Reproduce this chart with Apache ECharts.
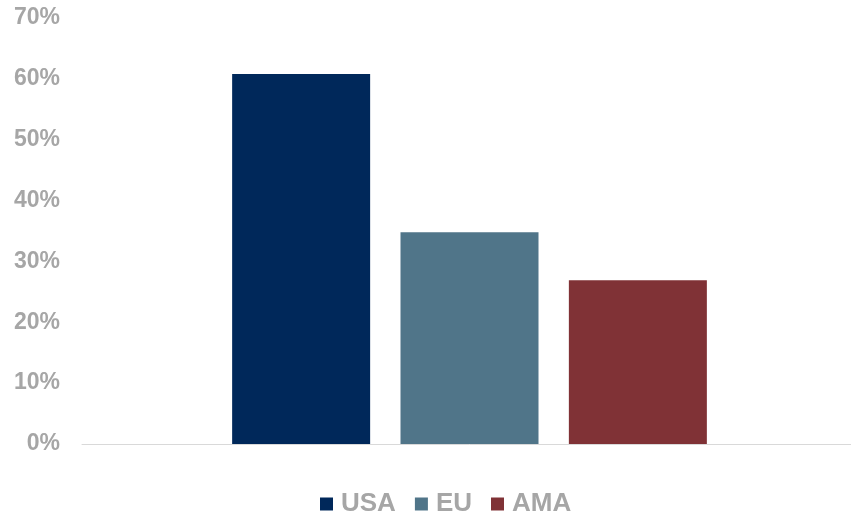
<!DOCTYPE html>
<html>
<head>
<meta charset="utf-8">
<script src="https://cdn.jsdelivr.net/npm/echarts@6/dist/echarts.min.js"></script>
<style>
  html, body { margin: 0; padding: 0; background: #fff; overflow: hidden; }
  /* slightly wider than the window, axis runs off the right edge like the original */
  #chart { width: 857px; height: 515px; }
</style>
</head>
<body>
<div id="chart"></div>
<script>
// values (share, %)
var categories = ['']
var seriesNames = ['USA', 'EU', 'AMA']
var usa = [60.8]
var eu = [34.8]
var ama = [26.9]
var colors = ['#00285a', '#507589', '#803236']

var chart = echarts.init(document.getElementById('chart'))
var grey = '#a6a6a6'

chart.setOption({
  animation: false,
  color: colors,
  grid: {
    left: 82,
    right: 0,
    top: 18,
    bottom: 71,
    containLabel: false
  },
  xAxis: {
    type: 'category',
    data: categories,
    axisLine: { lineStyle: { color: '#d9d9d9', width: 1 } },
    axisTick: { show: false },
    axisLabel: { show: false }
  },
  yAxis: {
    type: 'value',
    min: 0,
    max: 70,
    interval: 10,
    axisLine: { show: false },
    axisTick: { show: false },
    splitLine: { show: false },
    axisLabel: {
      color: grey,
      fontFamily: 'Liberation Sans, Arial, sans-serif',
      fontWeight: 'bold',
      fontSize: 23,
      margin: 22,
      formatter: function (v) { return v + '%' }
    }
  },
  legend: {
    top: 491,
    left: 320,
    padding: 0,
    itemWidth: 13,
    itemHeight: 13,
    itemGap: 19,
    icon: 'rect',
    textStyle: {
      color: grey,
      fontFamily: 'Liberation Sans, Arial, sans-serif',
      fontWeight: 'bold',
      fontSize: 26,
      padding: [0, 0, 0, 3]
    },
    data: seriesNames
  },
  series: [
    { name: seriesNames[0], type: 'bar', data: usa, barWidth: 138, barGap: '22%' },
    { name: seriesNames[1], type: 'bar', data: eu, barWidth: 138, barGap: '22%' },
    { name: seriesNames[2], type: 'bar', data: ama, barWidth: 138, barGap: '22%' }
  ]
})
</script>
</body>
</html>
